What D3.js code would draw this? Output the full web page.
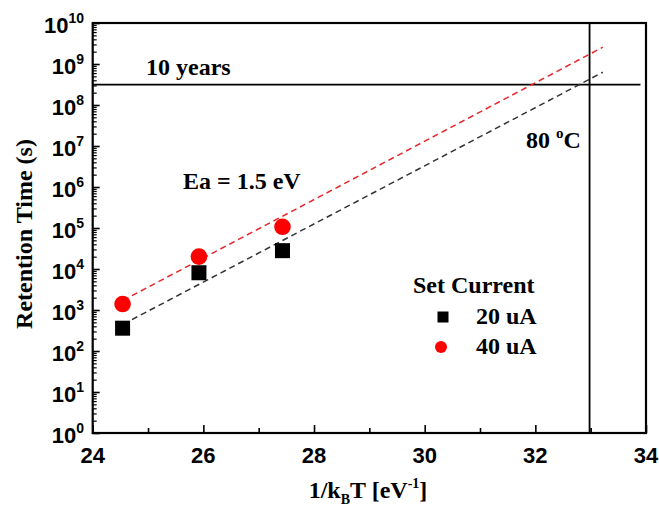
<!DOCTYPE html>
<html>
<head>
<meta charset="utf-8">
<script src="https://cdn.jsdelivr.net/npm/d3@7"></script>
<style>
  body { margin: 0; background: #fff; }
  .tick-lbl { font-family: "Liberation Sans", Arial, sans-serif; font-weight: bold; }
  .serif { font-family: "Liberation Serif", "Times New Roman", serif; font-weight: bold; }
</style>
</head>
<body>
<div id="chart"></div>
<script>
(function() {
  var width = 659,
      height = 509;

  // data
  var invKT20 = [24.54, 25.92, 27.43],
      ret20 = [360, 8100, 28000];
  var invKT40 = [24.54, 25.92, 27.43],
      ret40 = [1400, 20000, 107000];
  var fit20 = [[24.55, 450], [33.22, 6.3e8]],
      fit40 = [[24.55, 1720], [33.22, 2.57e9]];
  var tenYears = 3.15e8,      // seconds
      invKT80C = 32.98;
  var xTicks = [24, 26, 28, 30, 32, 34],
      xMinor = [25, 27, 29, 31, 33],
      yExps = [0, 1, 2, 3, 4, 5, 6, 7, 8, 9, 10];

  var svg = d3.select("#chart")
      .append("svg")
      .attr("width", width)
      .attr("height", height);

  var x = d3.scaleLinear().domain([24, 34]).range([92.7, 646]);
  var y = d3.scaleLog().domain([1, 1e10]).range([433, 23]);

  // minor log ticks
  var yMinor = [];
  yExps.slice(0, -1).forEach(function(e) {
    for (var m = 2; m < 10; m++) yMinor.push(m * Math.pow(10, e));
  });

  svg.append("g")
    .attr("transform", "translate(" + x.range()[0] + ",0)")
    .call(d3.axisLeft(y).tickValues(yExps.map(function(e) { return Math.pow(10, e); }))
      .tickSize(-7).tickFormat(""))
    .call(function(g) { g.selectAll("line").attr("stroke-width", 1.6); });

  svg.append("g")
    .attr("transform", "translate(" + x.range()[0] + ",0)")
    .call(d3.axisLeft(y).tickValues(yMinor).tickSize(-4).tickFormat(""))
    .call(function(g) { g.selectAll("line").attr("stroke-width", 1.2); g.select(".domain").remove(); });

  svg.append("g")
    .attr("transform", "translate(0," + y.range()[0] + ")")
    .call(d3.axisBottom(x).tickValues(xTicks).tickSize(-8).tickFormat(""))
    .call(function(g) { g.selectAll("line").attr("stroke-width", 1.6); });

  svg.append("g")
    .attr("transform", "translate(0," + y.range()[0] + ")")
    .call(d3.axisBottom(x).tickValues(xMinor).tickSize(-5).tickFormat(""))
    .call(function(g) { g.selectAll("line").attr("stroke-width", 1.6); g.select(".domain").remove(); });

  svg.selectAll(".domain").attr("stroke-width", 0);

  // frame
  svg.append("rect")
    .attr("x", x(24)).attr("y", y(1e10))
    .attr("width", x(34) - x(24)).attr("height", y(1) - y(1e10))
    .attr("fill", "none").attr("stroke", "#000").attr("stroke-width", 2.2);

  // y tick labels 10^n
  var ylab = svg.selectAll(".ylab")
    .data(yExps)
    .enter().append("text")
    .attr("class", "tick-lbl ylab")
    .attr("text-anchor", "end")
    .attr("x", 84)
    .attr("y", function(d) { return y(Math.pow(10, d)) + 10; })
    .attr("font-size", 22);
  ylab.append("tspan").text("10");
  ylab.append("tspan").attr("dy", -10).attr("font-size", 14).text(function(d) { return d; });

  // x tick labels
  svg.selectAll(".xlab")
    .data(xTicks)
    .enter().append("text")
    .attr("class", "tick-lbl xlab")
    .attr("text-anchor", "middle")
    .attr("x", function(d) { return x(d); })
    .attr("y", 463)
    .attr("font-size", 22)
    .text(function(d) { return d; });

  // axis titles
  svg.append("text")
    .attr("class", "serif")
    .attr("text-anchor", "middle")
    .attr("transform", "translate(32,234)rotate(-90)")
    .attr("font-size", 24)
    .text("Retention Time (s)");

  var xt = svg.append("text")
    .attr("class", "serif")
    .attr("text-anchor", "middle")
    .attr("x", 368).attr("y", 498)
    .attr("font-size", 24);
  xt.append("tspan").text("1/k");
  xt.append("tspan").attr("dy", 6).attr("font-size", 14).text("B");
  xt.append("tspan").attr("dy", -6).text("T [eV");
  xt.append("tspan").attr("dy", -10).attr("font-size", 14).text("-1");
  xt.append("tspan").attr("dy", 10).text("]");

  // reference lines
  svg.append("line")
    .attr("x1", x(24)).attr("x2", x(33.9))
    .attr("y1", y(tenYears)).attr("y2", y(tenYears))
    .attr("stroke", "#000").attr("stroke-width", 1.8);

  svg.append("line")
    .attr("x1", x(invKT80C)).attr("x2", x(invKT80C))
    .attr("y1", y(1)).attr("y2", y(1e10))
    .attr("stroke", "#000").attr("stroke-width", 1.8);

  // fit lines
  var line = d3.line()
    .x(function(d) { return x(d[0]); })
    .y(function(d) { return y(d[1]); });

  svg.append("path")
    .datum(fit20)
    .attr("d", line)
    .attr("fill", "none")
    .attr("stroke", "#333")
    .attr("stroke-width", 1.5)
    .attr("stroke-dasharray", "6,4");

  svg.append("path")
    .datum(fit40)
    .attr("d", line)
    .attr("fill", "none")
    .attr("stroke", "#e8262a")
    .attr("stroke-width", 1.5)
    .attr("stroke-dasharray", "6,4");

  // data points
  svg.selectAll(".sq")
    .data(d3.zip(invKT20, ret20))
    .enter().append("rect")
    .attr("class", "sq")
    .attr("x", function(d) { return x(d[0]) - 7.5; })
    .attr("y", function(d) { return y(d[1]) - 7.5; })
    .attr("width", 15).attr("height", 15)
    .attr("fill", "#000");

  svg.selectAll(".dot")
    .data(d3.zip(invKT40, ret40))
    .enter().append("circle")
    .attr("class", "dot")
    .attr("cx", function(d) { return x(d[0]); })
    .attr("cy", function(d) { return y(d[1]); })
    .attr("r", 8.3)
    .attr("fill", "#f00");

  // annotations
  svg.append("text").attr("class", "serif")
    .attr("x", 146).attr("y", 75).attr("font-size", 24)
    .text("10 years");

  svg.append("text").attr("class", "serif")
    .attr("x", 183).attr("y", 189).attr("font-size", 24)
    .text("Ea = 1.5 eV");

  var t80 = svg.append("text").attr("class", "serif")
    .attr("x", 526).attr("y", 148).attr("font-size", 24);
  t80.append("tspan").text("80 ");
  t80.append("tspan").attr("dy", -10).attr("font-size", 15).text("o");
  t80.append("tspan").attr("dy", 10).text("C");

  // legend
  svg.append("text").attr("class", "serif")
    .attr("x", 413).attr("y", 293).attr("font-size", 24)
    .text("Set Current");
  svg.append("rect")
    .attr("x", 437.5).attr("y", 311.5).attr("width", 11).attr("height", 11)
    .attr("fill", "#000");
  svg.append("text").attr("class", "serif")
    .attr("x", 476).attr("y", 324).attr("font-size", 24)
    .text("20 uA");
  svg.append("circle")
    .attr("cx", 441).attr("cy", 347).attr("r", 6)
    .attr("fill", "#f00");
  svg.append("text").attr("class", "serif")
    .attr("x", 476).attr("y", 354).attr("font-size", 24)
    .text("40 uA");
})();
</script>
</body>
</html>
